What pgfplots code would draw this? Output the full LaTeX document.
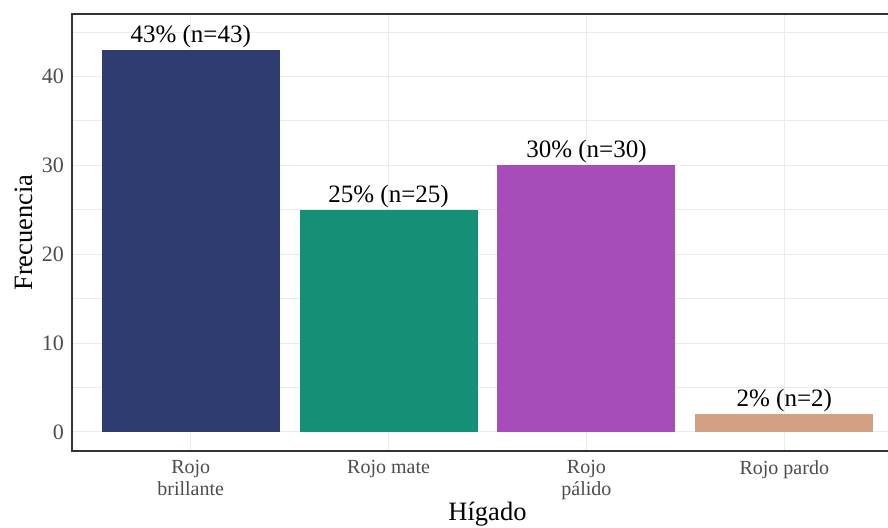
\documentclass[border=0pt]{standalone}
\usepackage{fontspec}
\setmainfont{Liberation Serif}
\usepackage{pgfplots}
\pgfplotsset{compat=1.18}
\definecolor{cA}{HTML}{2E3C70}
\definecolor{cB}{HTML}{158F75}
\definecolor{cC}{HTML}{A64DBA}
\definecolor{cD}{HTML}{D2A082}
\definecolor{gridc}{HTML}{EBEBEB}
\definecolor{framec}{HTML}{333333}
\begin{document}
\begin{tikzpicture}
\begin{axis}[
  at={(72pt,76pt)}, anchor=south west,
  scale only axis, width=831pt, height=437pt,
  xmin=-0.6, xmax=3.6, ymin=-2.15, ymax=47,
  axis line style={framec, line width=1.3pt},
  xtick={0,1,2,3},
  xticklabels={{Rojo\\brillante},{Rojo mate},{Rojo\\pálido},{Rojo pardo}},
  ytick={0,10,20,30,40},
  minor ytick={5,15,25,35,45},
  major tick length=0pt, minor tick length=0pt,
  xmajorgrids, ymajorgrids, yminorgrids,
  major grid style={gridc, line width=0.9pt},
  minor grid style={gridc, line width=0.5pt},
  /pgf/number format/assume math mode=true,
  yticklabel style={font=\fontsize{22}{24}\selectfont, color=black!70, anchor=east, inner sep=0pt, xshift=-8pt},
  xticklabel style={font=\fontsize{20}{22}\selectfont, color=black!70, align=center, anchor=north, inner sep=0pt, yshift=-9pt},
  xlabel={Hígado}, ylabel={Frecuencia},
  xlabel style={font=\fontsize{26.5}{28}\selectfont, at={(axis description cs:0.5,0)}, anchor=base, yshift=-69pt},
  ylabel style={font=\fontsize{26.5}{28}\selectfont, at={(axis description cs:-0.048,0.5)}, anchor=base},
  ybar, bar width=0.9, bar shift=0pt,
  point meta=explicit symbolic,
  nodes near coords,
  every node near coord/.append style={font=\fontsize{25}{27}\selectfont, color=black, anchor=base, inner sep=0pt, yshift=7.5pt},
]
\addplot[draw=none, fill=cA] coordinates {(0,43) [43\% (n=43)]};
\addplot[draw=none, fill=cB] coordinates {(1,25) [25\% (n=25)]};
\addplot[draw=none, fill=cC] coordinates {(2,30) [30\% (n=30)]};
\addplot[draw=none, fill=cD] coordinates {(3,2) [2\% (n=2)]};
\end{axis}
\pgfresetboundingbox
\useasboundingbox (0,0) rectangle (888pt,527pt);
\end{tikzpicture}
\end{document}
